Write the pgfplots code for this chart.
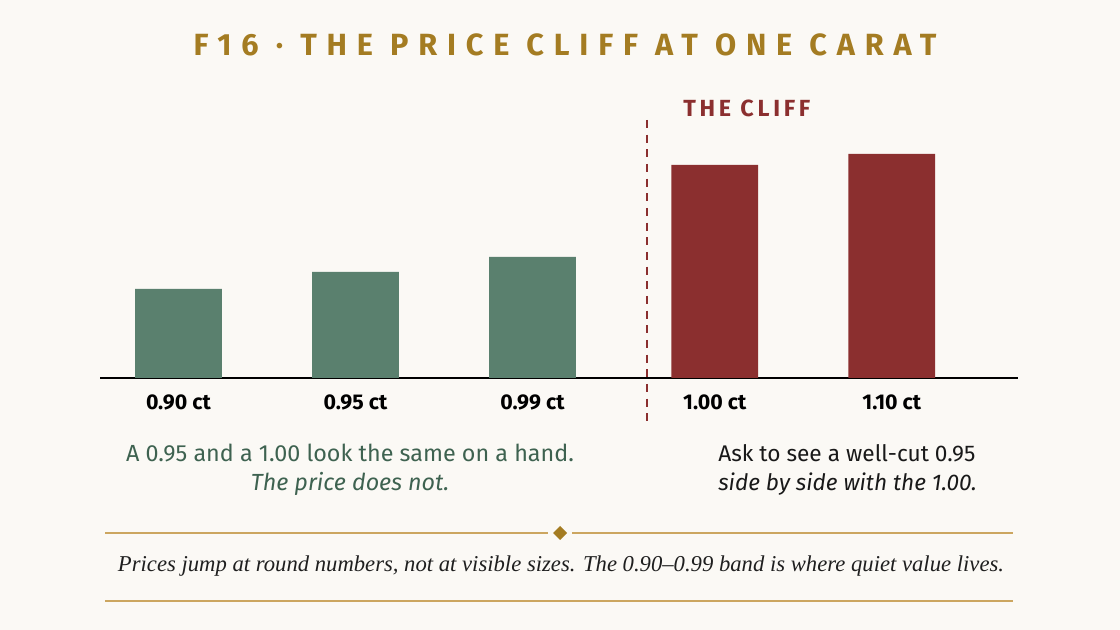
\documentclass[border=0pt]{standalone}
\usepackage{pgfplots}
\pgfplotsset{compat=1.18}
\usepackage{fontspec}
\setmainfont{Fira Sans}
\newfontfamily\spaced[LetterSpace=32]{Fira Sans}
\newfontfamily\cliff[LetterSpace=16]{Fira Sans}
\newfontfamily\serifit{Liberation Serif}
\definecolor{bg}{HTML}{FBF9F5}
\definecolor{sage}{HTML}{5A806E}
\definecolor{wine}{HTML}{8B2F2F}
\definecolor{gold}{HTML}{A47C22}
\definecolor{rule}{HTML}{CCA660}
\definecolor{note}{HTML}{3E6250}
\begin{document}
\begin{tikzpicture}[x=0.75pt,y=0.75pt]
% page in pixel units, y measured up from the bottom
\fill[bg] (0,0) rectangle (1120,630);
\node[font=\spaced\bfseries\fontsize{23}{26}\selectfont, text=gold] at (565,585) {F16 · THE PRICE CLIFF AT ONE CARAT};
\node[font=\cliff\bfseries\fontsize{17.5}{20}\selectfont, text=wine, anchor=west, inner sep=0pt] at (683,522) {THE CLIFF};

\begin{axis}[
  at={(75pt,189pt)}, anchor=south west,
  scale only axis, width=688.5pt, height=193.5pt,
  xmin=-0.443, xmax=4.743, ymin=0, ymax=258,
  axis y line=none, axis x line*=bottom,
  x axis line style={black, line width=1.5pt, -},
  xtick={0,1,2,3.03,4.03},
  xticklabels={0.90 ct,0.95 ct,0.99 ct,1.00 ct,1.10 ct},
  major tick length=0pt,
  xticklabel style={font=\bfseries\fontsize{16}{18}\selectfont, text=black, anchor=center, yshift=-18pt},
  clip=false,
]
\addplot[ybar, bar width=0.49, fill=sage, draw=none] coordinates {(0,89) (1,106) (2,121)};
\addplot[ybar, bar width=0.49, fill=wine, draw=none] coordinates {(3.03,213) (4.03,224)};
\draw[wine, line width=1.1pt, dash pattern=on 6pt off 5pt] (axis cs:2.647,258) -- (axis cs:2.647,-47);
\end{axis}

\begin{scope}[font=\fontsize{17.5}{20}\selectfont]
\node[text=note] at (350,177) {A 0.95 and a 1.00 look the same on a hand.};
\node[text=note] at (350,146) {\itshape The price does not.};
\end{scope}
\begin{scope}[font=\fontsize{17}{20}\selectfont]
\node[anchor=west, inner sep=0pt, text=black!90] at (718,177) {Ask to see a well-cut 0.95};
\node[anchor=west, inner sep=0pt, text=black!90] at (718,146) {\itshape side by side with the 1.00.};
\end{scope}

\draw[rule, line width=0.9pt] (105,97) -- (548,97);
\draw[rule, line width=0.9pt] (572,97) -- (1013,97);
\fill[gold] (560,104) -- (567,97) -- (560,90) -- (553,97) -- cycle;
\node[font=\serifit\itshape\fontsize{17}{20}\selectfont, text=black!88] at (561,64) {Prices jump at round numbers, not at visible sizes. The 0.90–0.99 band is where quiet value lives.};
\draw[rule, line width=0.9pt] (105,29) -- (1013,29);
\end{tikzpicture}
\end{document}
